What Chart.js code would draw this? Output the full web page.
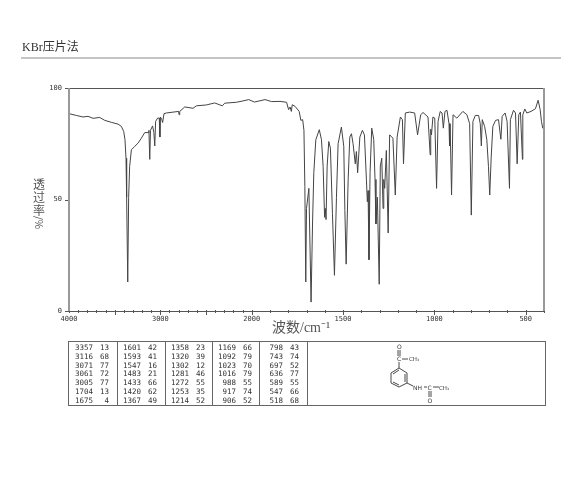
<!DOCTYPE html>
<html>
<head>
<meta charset="utf-8">
<script src="https://cdn.jsdelivr.net/npm/chart.js@4/dist/chart.umd.js"></script>
<style>
html, body { margin: 0; padding: 0; background: #fff; }
body { width: 570px; height: 492px; position: relative; overflow: hidden; filter: blur(0.3px); }
#chartBox { position: absolute; left: 0; top: 0; width: 570px; height: 492px; }
.label { position: absolute; color: #333; font-family: "Liberation Serif", "Noto Sans CJK SC", serif; white-space: nowrap; }
#title { left: 22px; top: 37px; font-size: 12px; }
#rule { position: absolute; left: 21px; top: 57px; width: 540px; height: 2px; background: #c4c4c4; }
#xTitle { left: 272px; top: 316px; font-size: 14px; color: #555; }
.yChar { position: absolute; left: 32px; width: 14px; height: 13px; text-align: center; font: 12px/13px "Noto Sans CJK SC", sans-serif; color: #555; }
#peakTable { position: absolute; left: 68px; top: 341px; width: 476px; height: 63px; border: 1px solid #666; box-sizing: content-box; }
.divider { position: absolute; top: 0; width: 1px; height: 63px; background: #666; }
.cell { position: absolute; font: 7.5px "DejaVu Sans Mono", monospace; color: #333; text-align: right; line-height: 9px; }
#structure { position: absolute; left: 370px; top: 341px; }
</style>
</head>
<body>
<div id="chartBox"><canvas id="irChart" width="570" height="492"></canvas></div>
<div class="label" id="title">KBr压片法</div>
<div id="rule"></div>
<div class="label" id="xTitle">波数/cm⁻¹</div>
<div class="yChar" style="top:177px">透</div>
<div class="yChar" style="top:190px">过</div>
<div class="yChar" style="top:203px">率</div>
<div class="yChar" style="top:216px;transform:rotate(90deg);font-size:10px">/%</div>
<div id="peakTable"></div>
<svg id="structure" width="100" height="66" font-family="DejaVu Sans" font-size="6" fill="#333" stroke="none">
  <g stroke="#333" stroke-width="0.9" fill="none">
    <path d="M29 27 L37 32 L37 42 L29 46 L21 42 L21 32 Z"/>
    <path d="M35 33 L35 41 M29 44 L23 41 M23 33 L29 29"/>
    <path d="M29 27 L29 21 M28 15 L28 9 M30 15 L30 9 M32 18 L38 18"/>
    <path d="M37 42 L43 45 M54 46 L57 46 M63 46 L69 46 M59 50 L59 56 M61 50 L61 56"/>
  </g>
  <text x="27" y="8">O</text>
  <text x="27" y="20">C</text>
  <text x="39" y="20" font-size="5.5">CH₃</text>
  <text x="43" y="49">NH</text>
  <text x="57.500" y="49">C</text>
  <text x="69" y="49" font-size="5.5">CH₃</text>
  <text x="57.500" y="62">O</text>
</svg>

<script>
// spectrum (cm-1 and % transmittance)
const waveNumbers = [4000,3920,3847,3792,3737,3664,3609,3536,3463,3427,3401,3387,3376,3369,3357,3347,3336,3317,3281,3244,3208,3171,3135,3125,3116,3108,3085,3071,3061,3052,3030,3012,3005,3000,2985,2975,2960,2934,2800,2795,2788,2733,2642,2606,2496,2405,2321,2295,2168,2095,2032,1985,1927,1891,1845,1809,1798,1790,1783,1778,1763,1740,1731,1721,1714,1709,1704,1700,1687,1675,1667,1660,1649,1630,1618,1609,1601,1597,1593,1587,1578,1569,1558,1547,1536,1527,1509,1496,1490,1483,1472,1463,1454,1445,1433,1427,1420,1408,1394,1383,1372,1367,1363,1358,1352,1343,1332,1325,1320,1312,1302,1296,1288,1281,1277,1272,1263,1253,1245,1227,1214,1204,1186,1175,1169,1159,1135,1108,1092,1075,1062,1035,1023,1020,1016,1008,998,988,980,968,958,951,942,931,920,917,914,906,898,877,844,822,807,798,789,776,758,749,743,738,725,713,704,697,689,680,665,649,636,629,613,602,589,584,567,556,547,538,529,518,516,505,494,471,447,432,421,414,407,400];
const transmittance = [88.5,87.7,87,87.3,86.4,86.8,85.5,84.6,83.8,82.8,80.5,76.8,68.5,51,13,51,64.8,72.3,73.8,75.3,77.5,80,80,81,68,81,83,80,74,85,86.5,86.5,78,87,86,84.5,88.5,88.8,89.5,88,89.5,91.5,90.9,92,92.4,93.3,92,93.2,93.6,94.2,94.8,93.7,94.8,93.9,94,93.6,90.3,91.5,89.5,92.5,91.8,89.5,85.5,85.8,81,55.8,13,46,55,4,39,62,76.8,81.3,76.8,64.8,42,46,41,65,76,73,43.8,16,51,75,82.5,73.8,45,21,58.8,78,79.5,75,66,71.5,62,78,81,79,58.8,49,54,23,62,82,77,59,39,51,12,65,68.5,46,59,55,72,35,79,77.5,52,78,87,85.8,66,88.8,89.2,88.8,79,88,89,87,70,81.5,79,87,86.5,55,85,89.5,88.8,82,89.5,90,84,74,84,52,88,86.5,89.5,88,84,43,85,87.7,87.7,84,74,85.8,82.8,76.8,64.8,52,69,82.8,85.5,85.8,77,87.3,88.8,85,55,85.8,90,88.8,66,88,89.2,68,88,90.6,88.8,89.5,90.7,94.5,90.3,85,82,82];

const xTickValues = [4000,3900,3800,3700,3600,3500,3400,3300,3200,3100,3000,2900,2800,2700,2600,2500,2400,2300,2200,2100,2000,1900,1800,1700,1600,1500,1400,1300,1200,1100,1000,900,800,700,600,500,400];
const xTickLabels = [4000,3000,2000,1500,1000,500];
const xLongTicks = [3500,3000,2500,2000,1500,1000,500];
const yTickValues = [0,10,20,30,40,50,60,70,80,90,100];
const yTickLabels = [0,50,100];

const tableWave = [
    ["3357","3116","3071","3061","3005","1704","1675"],
    ["1601","1593","1547","1483","1433","1420","1367"],
    ["1358","1320","1302","1281","1272","1253","1214"],
    ["1169","1092","1023","1016","988","917","906"],
    ["798","743","697","636","589","547","518"]
];
const tableTrans = [
    ["13","68","77","72","77","13","4"],
    ["42","41","16","21","66","62","49"],
    ["23","39","12","46","55","35","52"],
    ["66","79","70","79","55","74","52"],
    ["43","74","52","77","55","66","68"]
];

// the paper changes scale at 2000 cm-1: below it one wavenumber takes twice the width
class IrScale extends Chart.LinearScale {
    getPixelForValue(v) {
        let pos = v >= 2000 ? 4000 - v : 2000 + (2000 - v) * 2;
        return this.getPixelForDecimal(pos / 5200);
    }
}
IrScale.id = "irScale";
IrScale.defaults = {};
Chart.register(IrScale);

const tickFont = { family: "DejaVu Sans Mono", size: 7 };

const framePlugin = {
    id: "frame",
    afterDraw(chart) {
        let ctx = chart.ctx;
        let area = chart.chartArea;
        let xs = chart.scales.x;
        let ys = chart.scales.y;
        ctx.save();
        ctx.strokeStyle = "#555";
        ctx.lineWidth = 1;
        ctx.beginPath();
        ctx.moveTo(65, area.top + 0.5);
        ctx.lineTo(area.right, area.top + 0.5);
        ctx.moveTo(65, area.bottom + 0.5);
        ctx.lineTo(area.right, area.bottom + 0.5);
        xTickValues.forEach(v => {
            let px = Math.round(xs.getPixelForValue(v)) + 0.5;
            let long = xLongTicks.includes(v);
            ctx.moveTo(px, area.bottom - 1);
            ctx.lineTo(px, area.bottom + (long ? 4 : 2));
        });
        yTickValues.forEach(v => {
            let py = Math.round(ys.getPixelForValue(v)) + 0.5;
            ctx.moveTo(area.left - (yTickLabels.includes(v) ? 4 : 1), py);
            ctx.lineTo(area.left, py);
        });
        ctx.stroke();
        ctx.strokeStyle = "#999";
        ctx.lineWidth = 2;
        ctx.beginPath();
        ctx.moveTo(area.left, area.top);
        ctx.lineTo(area.left, area.bottom);
        ctx.moveTo(area.right, area.top);
        ctx.lineTo(area.right, area.bottom);
        ctx.stroke();
        ctx.restore();
    }
};

new Chart(document.getElementById("irChart"), {
    type: "line",
    data: {
        labels: waveNumbers,
        datasets: [{
            data: waveNumbers.map((w, i) => ({ x: w, y: transmittance[i] })),
            borderColor: "#444",
            borderWidth: 1,
            pointRadius: 0,
            tension: 0,
            fill: false
        }]
    },
    plugins: [framePlugin],
    options: {
        responsive: false,
        animation: false,
        events: [],
        layout: { padding: { left: 49, top: 88, right: 26, bottom: 171 } },
        plugins: { legend: { display: false }, tooltip: { enabled: false } },
        scales: {
            x: {
                type: "irScale",
                min: 400,
                max: 4000,
                grid: { display: false, drawTicks: false },
                border: { display: false },
                afterBuildTicks: s => { s.ticks = xTickLabels.map(v => ({ value: v })); },
                afterFit: s => { s.height = 10; s.paddingLeft = 0; s.paddingRight = 0; },
                ticks: {
                    autoSkip: false,
                    maxRotation: 0,
                    padding: 4,
                    color: "#333",
                    font: tickFont,
                    callback: v => String(v)
                }
            },
            y: {
                min: 0,
                max: 100,
                grid: { display: false, drawTicks: false },
                border: { display: false },
                afterBuildTicks: s => { s.ticks = yTickLabels.map(v => ({ value: v })); },
                afterFit: s => { s.width = 20; s.paddingTop = 0; s.paddingBottom = 0; },
                ticks: {
                    padding: 7,
                    color: "#333",
                    font: tickFont,
                    callback: v => String(v)
                }
            }
        }
    }
});

// peak table under the chart
const peakTable = document.getElementById("peakTable");
const colLeft = [0, 48, 96, 143, 190];
tableWave.forEach((col, c) => {
    if (c > 0) addDivider(colLeft[c]);
    col.forEach((w, r) => {
        addCell(w, colLeft[c] + 3, r, 21);
        addCell(tableTrans[c][r], colLeft[c] + 28, r, 12);
    });
});
addDivider(238);

function addDivider(left) {
    let d = document.createElement("div");
    d.className = "divider";
    d.style.left = left + "px";
    peakTable.appendChild(d);
}

function addCell(text, left, row, width) {
    let d = document.createElement("div");
    d.className = "cell";
    d.innerText = text;
    d.style.left = left + "px";
    d.style.top = (1 + row * 8.8) + "px";
    d.style.width = width + "px";
    peakTable.appendChild(d);
}
</script>
</body>
</html>
